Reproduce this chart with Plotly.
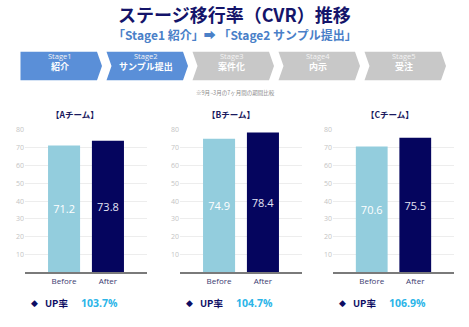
import plotly.graph_objects as go

# ---------------- data ----------------
categories = ["Before", "After"]
teams = ["【Aチーム】", "【Bチーム】", "【Cチーム】"]
before_vals = [71.2, 74.9, 70.6]
after_vals = [73.8, 78.4, 75.5]
up_rates = ["103.7%", "104.7%", "106.9%"]
stage_labels = ["Stage1", "Stage2", "Stage3", "Stage4", "Stage5"]
stage_names = ["紹介", "サンプル提出", "案件化", "内示", "受注"]
stage_active = [True, True, False, False, False]
y_ticks = [10, 20, 30, 40, 50, 60, 70, 80]

W, H = 469, 327
JP = "Noto Sans CJK JP"
NAVY = "#0d0d63"
BEFORE_C = "#93cddd"
AFTER_C = "#05055e"

fig = go.Figure()

# hidden pixel axis for decorations (first, so it sits underneath)
fig.add_trace(go.Scatter(x=[0], y=[0], mode="markers", marker=dict(opacity=0),
                         xaxis="x4", yaxis="y4", showlegend=False, hoverinfo="skip"))

# panel pixel geometry
panel_x = [(25, 147), (180, 302), (333, 454)]
y_bottom_px, y_top_px = 271.5, 126.7
title_cx = [75, 231, 390]
up_x = [34, 189, 342]

for i in range(3):
    ax = "" if i == 0 else str(i + 1)
    fig.add_trace(go.Bar(
        x=categories,
        y=[before_vals[i], after_vals[i]],
        marker=dict(color=[BEFORE_C, AFTER_C], line=dict(width=0)),
        width=0.73,
        text=[f"{before_vals[i]:.1f}", f"{after_vals[i]:.1f}"],
        textposition="inside",
        insidetextanchor="middle",
        textfont=dict(color=["#ffffff", "#e4e4f4"], size=11, family="Open Sans"),
        xaxis="x" + ax, yaxis="y" + ax,
        showlegend=False, hoverinfo="skip",
    ))
    x0, x1 = panel_x[i]
    fig.layout["xaxis" + ax] = dict(
        domain=[x0 / W, x1 / W], range=[-0.89, 1.89],
        showgrid=False, zeroline=False,
        showline=True, linecolor="#7a7a7a", linewidth=1.5,
        tickfont=dict(size=8, color="#3b3b70", family="Open Sans"),
        ticks="", anchor="y" + ax, fixedrange=True,
    )
    fig.layout["yaxis" + ax] = dict(
        domain=[1 - y_bottom_px / H, 1 - y_top_px / H], range=[0, 80],
        tickvals=y_ticks, showgrid=True, gridcolor="#ededed", gridwidth=1,
        zeroline=False, showline=False,
        tickfont=dict(size=7, color="#c4c4c4", family="Open Sans"),
        anchor="x" + ax, fixedrange=True,
    )

fig.layout["xaxis4"] = dict(domain=[0, 1], range=[0, W], visible=False, fixedrange=True, anchor="y4")
fig.layout["yaxis4"] = dict(domain=[0, 1], range=[H, 0], visible=False, fixedrange=True, anchor="x4")

shapes = []
annotations = []

# chevrons
top, bot, mid = 47.5, 76.5, 62
for i, (lab, name, act) in enumerate(zip(stage_labels, stage_names, stage_active)):
    s = 20.5 + i * 86
    e = s + 76.5
    tip = e + 5
    if i == 0:
        path = f"M{s},{top} L{e},{top} L{tip},{mid} L{e},{bot} L{s},{bot} Z"
    else:
        path = f"M{s},{top} L{e},{top} L{tip},{mid} L{e},{bot} L{s},{bot} L{s+5},{mid} Z"
    col = "#5a8fd8" if act else "#c8c8c8"
    shapes.append(dict(type="path", path=path, xref="x4", yref="y4",
                       fillcolor=col, line=dict(width=0), layer="below"))
    cx = s + 39
    annotations.append(dict(x=cx, y=51.5, xref="x4", yref="y4", text=lab, showarrow=False,
                            font=dict(size=7.5, color="#f4f4f4", family="Open Sans")))
    annotations.append(dict(x=cx, y=62.5, xref="x4", yref="y4", text=f"<b>{name}</b>", showarrow=False,
                            font=dict(size=9, color="#ffffff", family=JP)))

# titles
annotations.append(dict(x=234, y=9, xref="x4", yref="y4", text="<b>ステージ移行率（CVR）推移</b>",
                        showarrow=False, font=dict(size=18, color="#14146a", family=JP)))
annotations.append(dict(x=235, y=29.5, xref="x4", yref="y4",
                        text="<b>「Stage1 紹介」➡ 「Stage2 サンプル提出」</b>",
                        showarrow=False, font=dict(size=12, color="#4a80c8", family=JP)))
annotations.append(dict(x=235, y=89, xref="x4", yref="y4", text="※9月~3月の7ヶ月間の期間比較",
                        showarrow=False, font=dict(size=5.5, color="#8a8a8a", family=JP)))

for i in range(3):
    annotations.append(dict(x=title_cx[i], y=111, xref="x4", yref="y4", text=f"<b>{teams[i]}</b>",
                            showarrow=False, font=dict(size=8.5, color="#1a1a5e", family=JP)))
    ux = up_x[i]
    annotations.append(dict(x=ux, y=303, xref="x4", yref="y4", text="◆", showarrow=False,
                            font=dict(size=9, color=NAVY, family="DejaVu Sans")))
    annotations.append(dict(x=ux + 9, y=303, xref="x4", yref="y4", text="<b>UP率</b>", xanchor="left",
                            showarrow=False, font=dict(size=9.5, color=NAVY, family=JP)))
    annotations.append(dict(x=ux + 45, y=303, xref="x4", yref="y4", text=f"<b>{up_rates[i]}</b>",
                            xanchor="left", showarrow=False,
                            font=dict(size=10.5, color="#2bb5e8", family="Open Sans")))

fig.update_layout(
    width=W, height=H, margin=dict(l=0, r=0, t=0, b=0),
    paper_bgcolor="white", plot_bgcolor="rgba(0,0,0,0)",
    shapes=shapes, annotations=annotations, bargap=0.2,
)
fig.write_html("out.html")
